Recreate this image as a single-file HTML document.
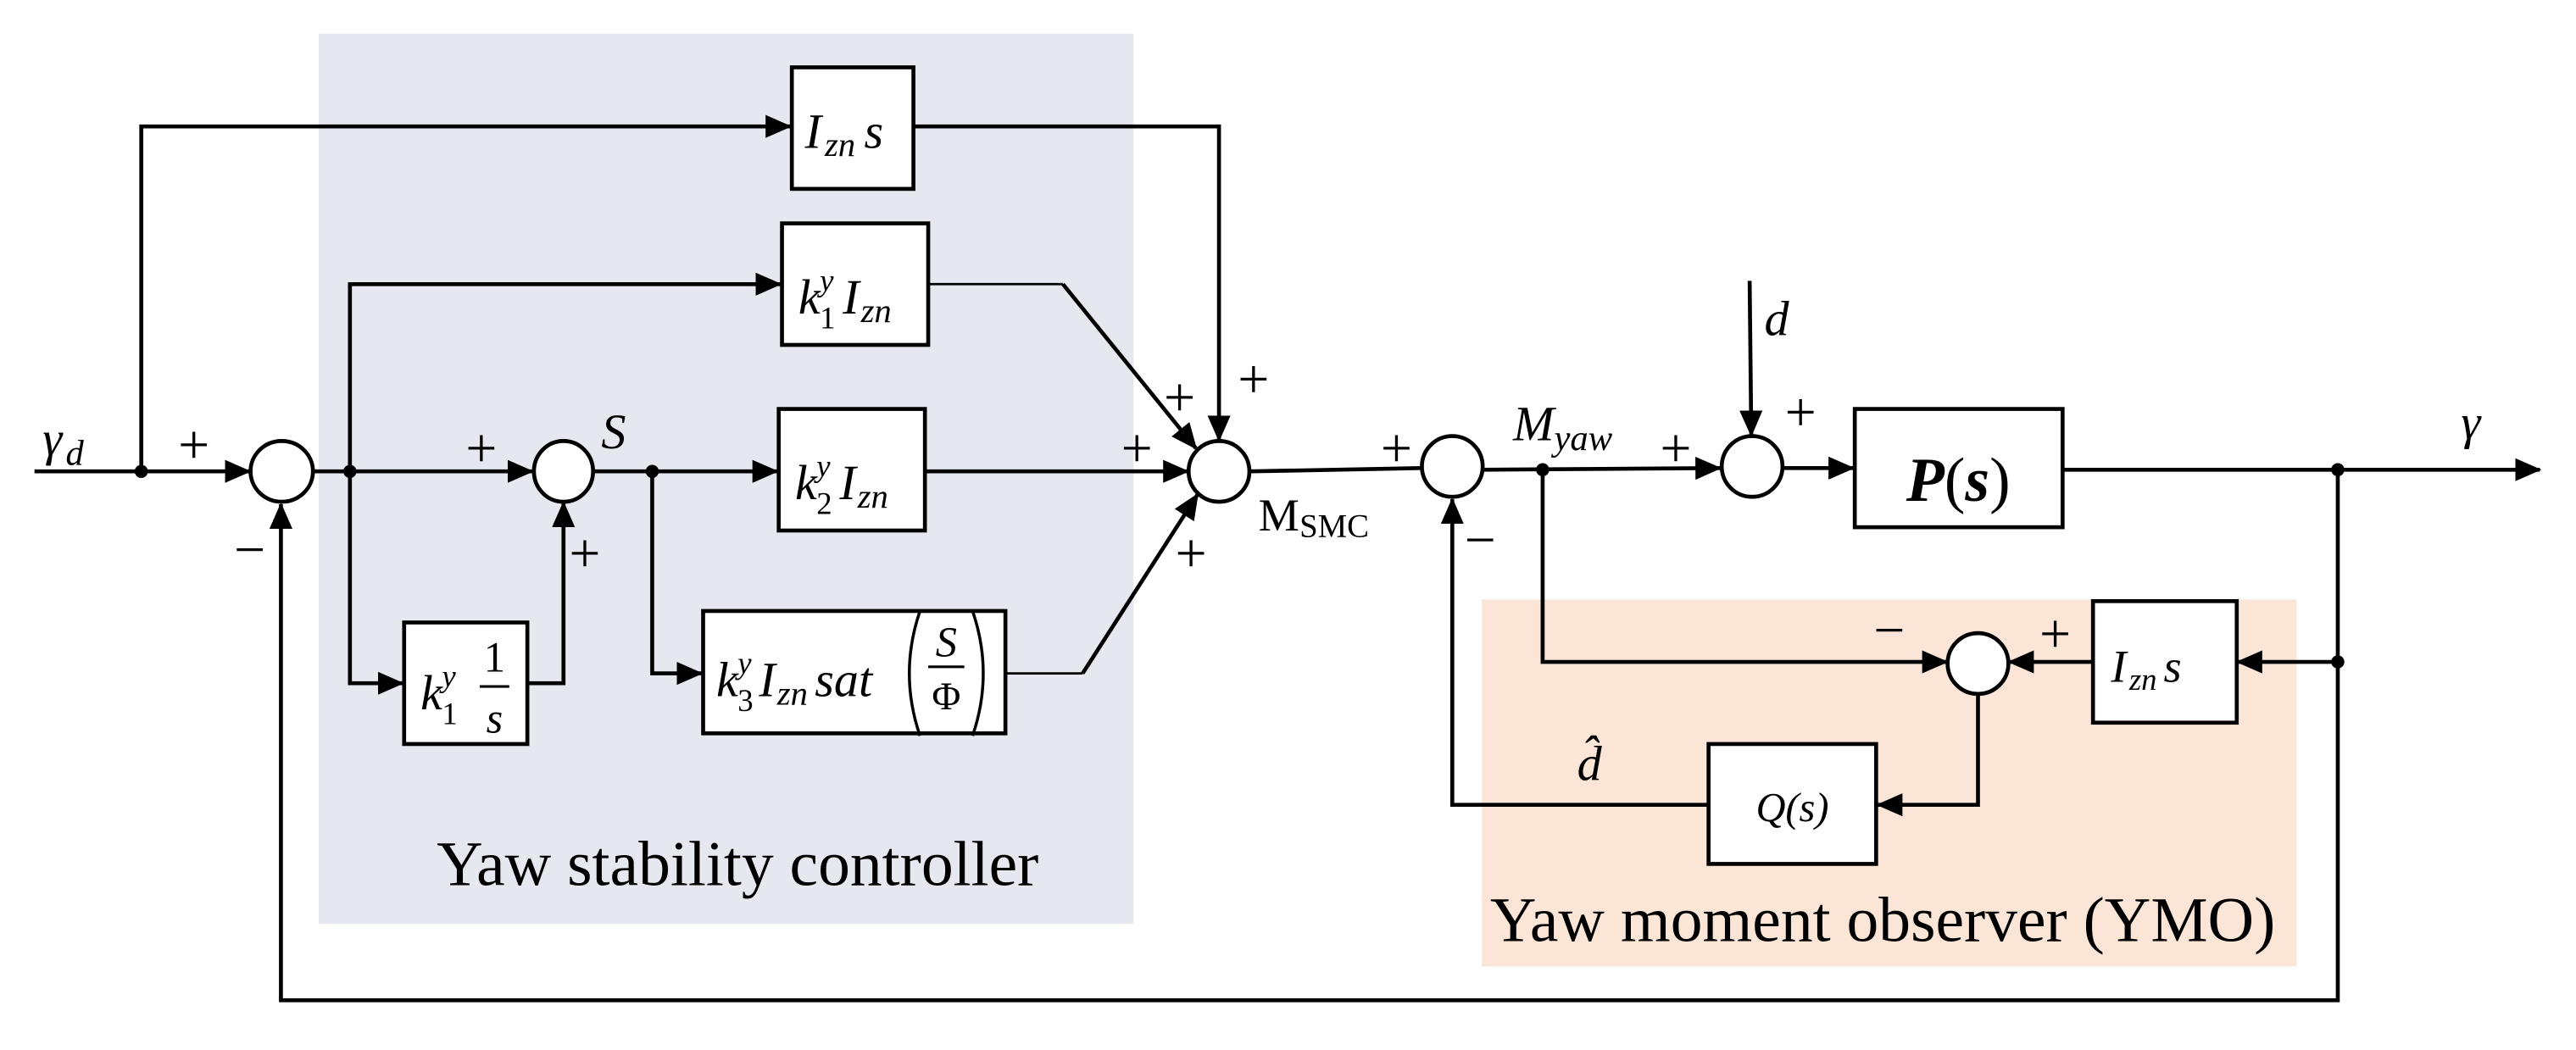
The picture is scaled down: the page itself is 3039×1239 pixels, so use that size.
<!DOCTYPE html>
<html><head><meta charset="utf-8"><style>
html,body{margin:0;padding:0;background:#fff;}
svg{display:block;}
.m{font-family:"Liberation Serif",serif;font-style:italic;}
.r{font-family:"Liberation Serif",serif;}
</style></head><body>
<svg width="3039" height="1239" viewBox="0 0 1568 639.3" preserveAspectRatio="none" xmlns="http://www.w3.org/2000/svg">
<defs>
<marker id="a" markerUnits="userSpaceOnUse" markerWidth="16" markerHeight="14" refX="15" refY="7" orient="auto">
<path d="M0,0 L16,7 L0,14 Z" fill="#000"/>
</marker>
</defs>
<rect x="194" y="20.5" width="496" height="542" fill="#e5e8ee"/>
<rect x="902" y="365" width="496" height="223.5" fill="#fbe5d6"/>
<g fill="none" stroke="#000" stroke-width="2.4">
<line x1="21" y1="287" x2="152" y2="287" marker-end="url(#a)"/>
<polyline points="86,287 86,77 481,77" marker-end="url(#a)"/>
<polyline points="556,77 742,77 742,268" marker-end="url(#a)"/>
<line x1="190" y1="287" x2="324" y2="287" marker-end="url(#a)"/>
<polyline points="213,287 213,173 475,173" marker-end="url(#a)"/>
<polyline points="213,287 213,416 245,416" marker-end="url(#a)"/>
<polyline points="321,416 343,416 343,306" marker-end="url(#a)"/>
<line x1="361" y1="287" x2="473" y2="287" marker-end="url(#a)"/>
<polyline points="397,287 397,410 427,410" marker-end="url(#a)"/>
<line x1="563" y1="287" x2="723" y2="287" marker-end="url(#a)"/>
<line x1="647" y1="173" x2="728" y2="273" marker-end="url(#a)"/>
<line x1="659" y1="410" x2="729" y2="301" marker-end="url(#a)"/>
<line x1="761" y1="287" x2="865" y2="285" />
<line x1="902" y1="286" x2="1047" y2="285" marker-end="url(#a)"/>
<line x1="1065" y1="171" x2="1066" y2="265" marker-end="url(#a)"/>
<line x1="1085" y1="285" x2="1128" y2="285" marker-end="url(#a)"/>
<line x1="1256" y1="286" x2="1546" y2="286" marker-end="url(#a)"/>
<polyline points="1423,286 1423,609 171,609 171,307" marker-end="url(#a)"/>
<line x1="1423" y1="403" x2="1362" y2="403" marker-end="url(#a)"/>
<line x1="1274" y1="403" x2="1223" y2="403" marker-end="url(#a)"/>
<polyline points="939,286 939,403 1185,403" marker-end="url(#a)"/>
<polyline points="1204,422 1204,490 1143,490" marker-end="url(#a)"/>
<polyline points="1040,490 884,490 884,304" marker-end="url(#a)"/>
</g>
<g fill="none" stroke="#000" stroke-width="1.4">
<line x1="565" y1="173" x2="647" y2="173"/>
<line x1="612" y1="410" x2="659" y2="410"/>
</g>
<g fill="#fff" stroke="#000" stroke-width="2.4">
<rect x="482" y="41" width="74" height="74"/>
<rect x="476" y="136" width="89" height="74"/>
<rect x="474" y="249" width="89" height="74"/>
<rect x="246" y="379" width="75" height="74"/>
<rect x="428" y="372" width="184" height="74.5"/>
<rect x="1129" y="249" width="126.5" height="72"/>
<rect x="1274" y="366" width="87.5" height="74"/>
<rect x="1040" y="453" width="102" height="73"/>
<ellipse cx="171.5" cy="287" rx="19" ry="18.5"/>
<ellipse cx="343" cy="287" rx="18" ry="18.5"/>
<ellipse cx="742" cy="287" rx="18.5" ry="18.5"/>
<ellipse cx="884" cy="284" rx="18.5" ry="18.5"/>
<ellipse cx="1066.5" cy="284" rx="18.5" ry="18.5"/>
<ellipse cx="1204" cy="404" rx="18.5" ry="18.5"/>
</g>
<g fill="#000">
<circle cx="86" cy="287" r="4"/><circle cx="213" cy="287" r="4"/><circle cx="397" cy="287" r="4"/>
<circle cx="939" cy="286" r="4"/><circle cx="1423" cy="286" r="4"/><circle cx="1423" cy="403" r="4"/>
</g>
<g class="r" font-size="34" text-anchor="middle">
<text x="118" y="282">+</text><text x="152" y="346">−</text>
<text x="293" y="284">+</text><text x="356" y="348">+</text>
<text x="718" y="253">+</text><text x="763" y="242">+</text><text x="692" y="284">+</text><text x="725" y="348">+</text>
<text x="850" y="284">+</text><text x="901" y="340">−</text>
<text x="1020" y="284">+</text><text x="1096" y="262">+</text>
<text x="1150" y="395">−</text><text x="1251" y="397">+</text>
</g>
<g class="m" font-size="30">
<text x="26" y="277">γ</text><text x="40" y="283" font-size="22">d</text>
<text x="366" y="273">S</text>
<text x="1074" y="204">d</text>
<text x="1498" y="267">γ</text>
<text x="921" y="268">M</text><text x="946" y="274" font-size="22">yaw</text>
<text x="960" y="475">d̂</text>
<text x="490" y="90">I</text><text x="502" y="95" font-size="21">zn</text><text x="526" y="90">s</text>
<text x="486" y="191">k</text><text x="499" y="177" font-size="19">y</text><text x="499" y="200" font-size="19" font-style="normal">1</text>
<text x="513" y="191">I</text><text x="524" y="196" font-size="21">zn</text>
<text x="484" y="304">k</text><text x="497" y="290" font-size="19">y</text><text x="497" y="313" font-size="19" font-style="normal">2</text>
<text x="511" y="304">I</text><text x="522" y="309" font-size="21">zn</text>
<text x="256" y="432">k</text><text x="269" y="418" font-size="19">y</text><text x="269" y="441" font-size="19" font-style="normal">1</text>
<text x="301" y="446" font-size="26" text-anchor="middle">s</text>
<text x="436" y="424">k</text><text x="449" y="410" font-size="19">y</text><text x="449" y="433" font-size="19" font-style="normal">3</text>
<text x="462" y="424">I</text><text x="473" y="429" font-size="21">zn</text><text x="496" y="424">sat</text>
<text x="576" y="400" text-anchor="middle" font-size="26">S</text>
<text x="1091" y="500" font-size="25" text-anchor="middle">Q(s)</text>
<text x="1285" y="415" font-size="28">I</text><text x="1296" y="420" font-size="19">zn</text><text x="1317" y="415" font-size="28">s</text>
</g>
<text class="r" x="301" y="409" font-size="26" text-anchor="middle">1</text>
<line x1="292" y1="418" x2="310" y2="418" stroke="#000" stroke-width="1.6"/>
<line x1="565" y1="406" x2="587" y2="406" stroke="#000" stroke-width="1.6"/>
<text class="r" x="576" y="432" font-size="24" text-anchor="middle">Φ</text>
<path d="M560,372 Q547,410 560,448" fill="none" stroke="#000" stroke-width="1.8"/>
<path d="M592,372 Q605,410 592,448" fill="none" stroke="#000" stroke-width="1.8"/>
<text x="1192" y="305" font-family="Liberation Serif,serif" font-size="38" text-anchor="middle"><tspan font-style="italic" font-weight="bold">P</tspan>(<tspan font-style="italic" font-weight="bold">s</tspan>)</text>
<text class="r" x="766" y="323" font-size="28">M</text><text class="r" x="791" y="327" font-size="20">SMC</text>
<text class="r" x="449" y="539" font-size="39" text-anchor="middle">Yaw stability controller</text>
<text class="r" x="1146" y="573" font-size="39" text-anchor="middle">Yaw moment observer (YMO)</text>
</svg>
</body></html>
